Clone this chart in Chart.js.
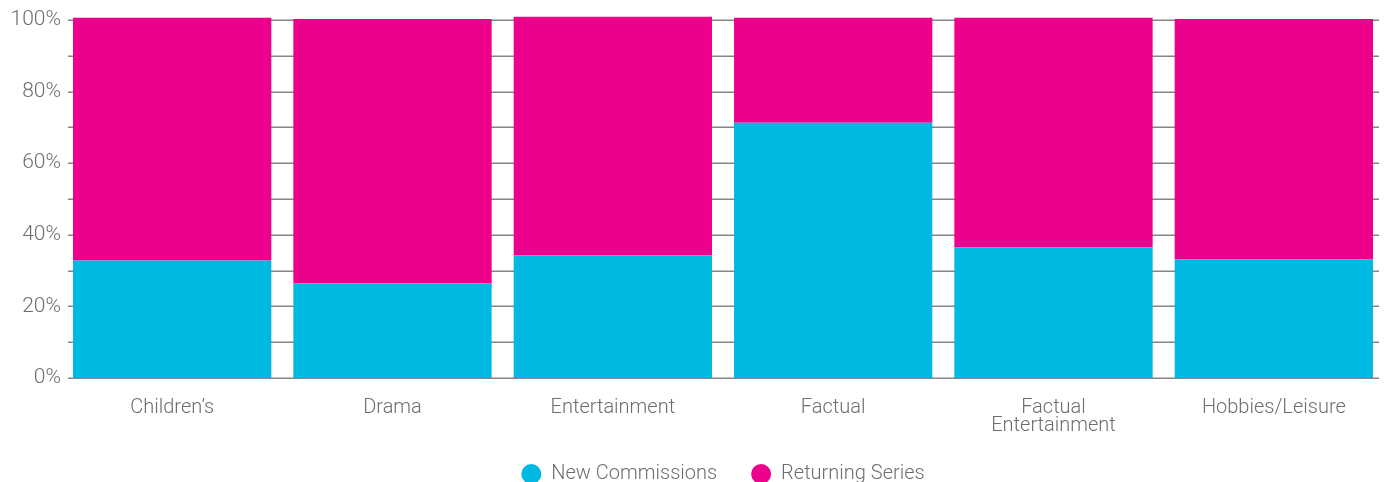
<!DOCTYPE html>
<html>
<head>
<meta charset="utf-8">
<script src="https://cdn.jsdelivr.net/npm/chart.js@4.4.1/dist/chart.umd.min.js"></script>
<style>
  html, body { margin: 0; padding: 0; background: #fff; overflow: hidden; }
  #wrap { position: relative; width: 1384px; height: 482px; }
</style>
</head>
<body>
<div id="wrap"><canvas id="chart"></canvas></div>
<script>
// категории и значения (в %)
const categories = ['Children’s', 'Drama', 'Entertainment', 'Factual', ['Factual', 'Entertainment'], 'Hobbies/Leisure'];
const newCommissions = [32.8, 26.5, 34.2, 71.3, 36.5, 33.1];
const returningSeries = [67.8, 73.8, 66.7, 29.3, 64.1, 67.2];
const yTicks = [0, 20, 40, 60, 80, 100];

const CYAN = '#00b9e3';
const MAGENTA = '#ec008c';
const TEXT = '#6e6e6e';
const FONT = 'Roboto, "Liberation Sans", sans-serif';

// сетка рисуется вручную: от засечки слева до правого края
const gridPlugin = {
  id: 'gridLines',
  beforeDatasetsDraw(chart) {
    const { ctx, scales: { y } } = chart;
    ctx.save();
    ctx.strokeStyle = '#858585';
    ctx.lineWidth = 1.5;
    y.ticks.forEach(t => {
      const py = Math.round(y.getPixelForValue(t.value)) + 0.25;
      ctx.beginPath();
      ctx.moveTo(68, py);
      ctx.lineTo(1379, py);
      ctx.stroke();
    });
    ctx.restore();
  }
};

// легенду чуть поднимаем, чтобы не трогать отступы между пунктами
const legendShift = {
  id: 'legendShift',
  afterLayout(chart) {
    chart.legend.top -= 8;
    chart.legend.bottom -= 8;
  }
};

new Chart(document.getElementById('chart'), {
  type: 'bar',
  data: {
    labels: categories,
    datasets: [
      {
        label: 'New Commissions',
        data: newCommissions,
        backgroundColor: CYAN,
        borderWidth: 0,
        barPercentage: 0.9,
        categoryPercentage: 1,
        clip: false,
      },
      {
        label: 'Returning Series',
        data: returningSeries,
        backgroundColor: MAGENTA,
        borderWidth: 0,
        barPercentage: 0.9,
        categoryPercentage: 1,
        clip: false,
      }
    ]
  },
  options: {
    responsive: true,
    maintainAspectRatio: false,
    animation: false,
    layout: { padding: { top: 20, right: -5, bottom: -20, left: 0 } },
    scales: {
      x: {
        stacked: true,
        offset: true,
        afterFit(scale) { scale.height = 60; },
        grid: { display: false, tickLength: 0 },
        border: { display: false },
        ticks: {
          color: TEXT,
          font: { family: FONT, size: 20, weight: 300, lineHeight: 0.9 },
          padding: 21,
          maxRotation: 0,
          minRotation: 0,
          autoSkip: false
        }
      },
      y: {
        stacked: true,
        min: 0,
        max: 100,
        afterFit(scale) { scale.width = 62; },
        afterBuildTicks(scale) {
          scale.ticks = [0, 10, 20, 30, 40, 50, 60, 70, 80, 90, 100].map(v => ({ value: v }));
        },
        grid: { display: false, tickLength: 0 },
        border: { display: false },
        ticks: {
          color: TEXT,
          font: { family: FONT, size: 21, weight: 300 },
          padding: 1,
          callback: v => yTicks.includes(v) ? v + '%' : ''
        }
      }
    },
    plugins: {
      legend: {
        position: 'bottom',
        fullSize: false,
        labels: {
          usePointStyle: true,
          pointStyle: 'circle',
          boxWidth: 20,
          boxHeight: 14,
          pointStyleWidth: 20,
          color: TEXT,
          padding: 34,
          font: { family: FONT, size: 20, weight: 300 }
        }
      },
      tooltip: { enabled: false }
    }
  },
  plugins: [gridPlugin, legendShift]
});
</script>
</body>
</html>
